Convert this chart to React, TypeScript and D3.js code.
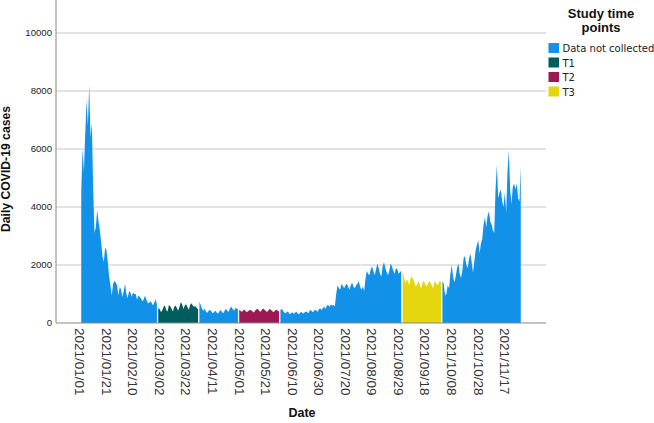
import React from "react";
import * as d3 from "d3";

// ---- Data (daily COVID-19 cases, 2021) ----
const categories = ["Data not collected", "T1", "T2", "T3"];
const categoryColors = ["#1192e8", "#005d5d", "#9f1853", "#e3d60f"];

// Each segment: start date, category index, daily values
const blue1Start = "2021-01-02";
const blue1 = [
  4500, 6000, 5200, 6500, 7700, 6800, 8200, 6400, 6900, 4600,
  3100, 3300, 3900, 3500, 3200, 2800, 2300, 2100, 2600, 2500,
  2100, 1600, 1300, 950, 1350, 1450, 1400, 1300, 950, 1250,
  1150, 900, 1100, 1350, 1000, 850, 1100, 1050, 900, 1050,
  1000, 1000, 800, 950, 900, 850, 750, 800, 950, 820,
  700, 680, 760, 700, 600, 700, 820, 650,
];
const t1Start = "2021-03-01";
const t1 = [
  520, 480, 380, 430, 560, 600, 450, 400, 620, 580, 500, 400, 550, 600, 520, 420,
  560, 720, 640, 480, 600, 650, 540, 460, 620, 680, 600, 560, 580, 520, 470,
];
const blue2Start = "2021-04-01";
const blue2 = [
  720, 620, 480, 420, 500, 380, 350, 420, 460, 400, 330, 380, 420, 360, 320,
  400, 450, 380, 340, 420, 480, 420, 380, 520, 560, 480, 420, 500, 520, 460,
];
const t2Start = "2021-05-01";
const t2 = [
  460, 420, 380, 440, 460, 400, 380, 420, 450, 440, 400, 360, 430, 470, 480, 420,
  390, 450, 500, 460, 410, 380, 440, 480, 450, 400, 380, 430, 460, 420, 400,
];
const blue3Start = "2021-06-01";
const blue3 = [
  450, 480, 420, 350, 330, 400, 380, 300, 340, 370, 320, 350, 400, 330, 300,
  360, 380, 320, 350, 400, 380, 340, 420, 450, 380, 400, 460, 430, 390, 480,
  500, 450, 520, 560, 480, 600, 620, 560, 640, 600, 620, 580, 1000, 1300, 1200,
  1150, 1350, 1280, 1200, 1300, 1350, 1250, 1150, 1300, 1400, 1250, 1200, 1300, 1350, 1450, 1250,
  1150, 1250, 1100, 1500, 1800, 1700, 1650, 1850, 1950, 1800, 1650, 1850, 2050, 1900, 1700,
  1600, 1950, 2100, 1900, 1750, 1650, 1800, 2050, 1950, 1800, 1700, 1900, 1850, 1700, 1750, 1800,
];
const t3Start = "2021-09-01";
const t3 = [
  1750, 1600, 1350, 1500, 1450, 1300, 1550, 1600, 1500, 1400, 1250, 1350, 1450, 1300, 1200,
  1400, 1450, 1350, 1250, 1350, 1450, 1400, 1300, 1200, 1450, 1400, 1300, 1350, 1450, 1400,
];
const blue4Start = "2021-10-01";
const blue4 = [
  1450, 1350, 950, 1000, 1300, 1200, 1700, 2000, 1600, 1400,
  1600, 1900, 2050, 1700, 1550, 1800, 2250, 2300, 2000, 1900,
  2200, 2400, 2100, 1750, 2100, 2500, 2700, 2850, 2400, 2750,
  2900, 3400, 3650, 3300, 3700, 3850, 3500, 3400, 3200, 3100,
  4600, 5450, 4300, 4500, 4600, 4200, 4000, 4500, 3800, 5200,
  5950, 4600, 4100, 4700, 4800, 4600, 4800, 4300, 4200, 5400,
];

const segments = [
  { start: blue1Start, cat: 0, values: blue1 },
  { start: t1Start, cat: 1, values: t1 },
  { start: blue2Start, cat: 0, values: blue2 },
  { start: t2Start, cat: 2, values: t2 },
  { start: blue3Start, cat: 0, values: blue3 },
  { start: t3Start, cat: 3, values: t3 },
  { start: blue4Start, cat: 0, values: blue4 },
];

const yTicks = [0, 2000, 4000, 6000, 8000, 10000];
const xTickLabels = [
  "2021/01/01", "2021/01/21", "2021/02/10", "2021/03/02", "2021/03/22", "2021/04/11",
  "2021/05/01", "2021/05/21", "2021/06/10", "2021/06/30", "2021/07/20", "2021/08/09",
  "2021/08/29", "2021/09/18", "2021/10/08", "2021/10/28", "2021/11/17",
];

const W = 654;
const H = 423;
const DAY = 86400000;
const parse = (s: string) => {
  const [y, m, d] = s.split(/[-/]/).map(Number);
  return new Date(Date.UTC(y, m - 1, d));
};

export default function App() {
  const plotLeft = 56;
  const plotRight = 546;
  const plotBottom = 323;

  const x = d3
    .scaleUtc()
    .domain([new Date(Date.UTC(2020, 11, 14)), new Date(Date.UTC(2021, 11, 18))])
    .range([plotLeft, plotRight]);
  const y = d3.scaleLinear().domain([0, 10000]).range([plotBottom, 33]);

  type P = { date: Date; v: number };
  const area = d3
    .area<P>()
    .x((d) => x(d.date))
    .y0(y(0))
    .y1((d) => y(d.v));

  const font = "'Liberation Sans', Arial, sans-serif";

  return (
    <svg
      width={W}
      height={H}
      style={{ position: "absolute", left: 0, top: 0, background: "#fff" }}
    >
      {/* gridlines */}
      {yTicks.filter((t) => t > 0).map((t) => (
        <line
          key={t}
          x1={plotLeft}
          x2={plotRight}
          y1={y(t)}
          y2={y(t)}
          stroke="#c8c8c8"
          strokeWidth={1.2}
        />
      ))}
      {/* areas */}
      {segments.map((s, i) => {
        const st = parse(s.start).getTime();
        const pts: P[] = s.values.map((v, k) => ({ date: new Date(st + k * DAY), v }));
        return (
          <path key={i} d={area(pts) || ""} fill={categoryColors[s.cat]} stroke="none" />
        );
      })}
      {/* axes */}
      <line x1={plotLeft} x2={plotLeft} y1={0} y2={plotBottom} stroke="#999" strokeWidth={1.2} />
      <line x1={plotLeft} x2={plotRight} y1={plotBottom} y2={plotBottom} stroke="#888" strokeWidth={1.2} />
      {/* y tick labels */}
      {yTicks.map((t) => (
        <text
          key={t}
          x={52}
          y={y(t)}
          dy="0.35em"
          textAnchor="end"
          fontFamily={font}
          fontSize={9.6}
          fill="#222"
        >
          {t}
        </text>
      ))}
      {/* x tick labels */}
      {xTickLabels.map((lab) => {
        const xp = x(parse(lab));
        return (
          <text
            key={lab}
            transform={`translate(${xp},328) rotate(90)`}
            dy="0.35em"
            textAnchor="start"
            fontFamily={font}
            fontSize={13.5}
            fill="#333"
          >
            {lab}
          </text>
        );
      })}
      {/* axis titles */}
      <text
        transform="translate(9.5,169) rotate(-90)"
        textAnchor="middle"
        fontFamily={font}
        fontWeight="bold"
        fontSize={12.2}
        fill="#111"
      >
        Daily COVID-19 cases
      </text>
      <text
        x={302}
        y={417}
        textAnchor="middle"
        fontFamily={font}
        fontWeight="bold"
        fontSize={12.5}
        fill="#111"
      >
        Date
      </text>
      {/* legend */}
      <text x={601} y={18} textAnchor="middle" fontFamily={font} fontWeight="bold" fontSize={13} fill="#111">
        Study time
      </text>
      <text x={601} y={31.5} textAnchor="middle" fontFamily={font} fontWeight="bold" fontSize={13} fill="#111">
        points
      </text>
      {categories.map((c, i) => (
        <g key={c} transform={`translate(548.5,${43 + i * 14.5})`}>
          <rect width={10.5} height={10} fill={categoryColors[i]} />
          <text
            x={14}
            y={9}
            fontFamily="'DejaVu Sans', Verdana, sans-serif"
            fontSize={10}
            fill="#222"
          >
            {c}
          </text>
        </g>
      ))}
    </svg>
  );
}
